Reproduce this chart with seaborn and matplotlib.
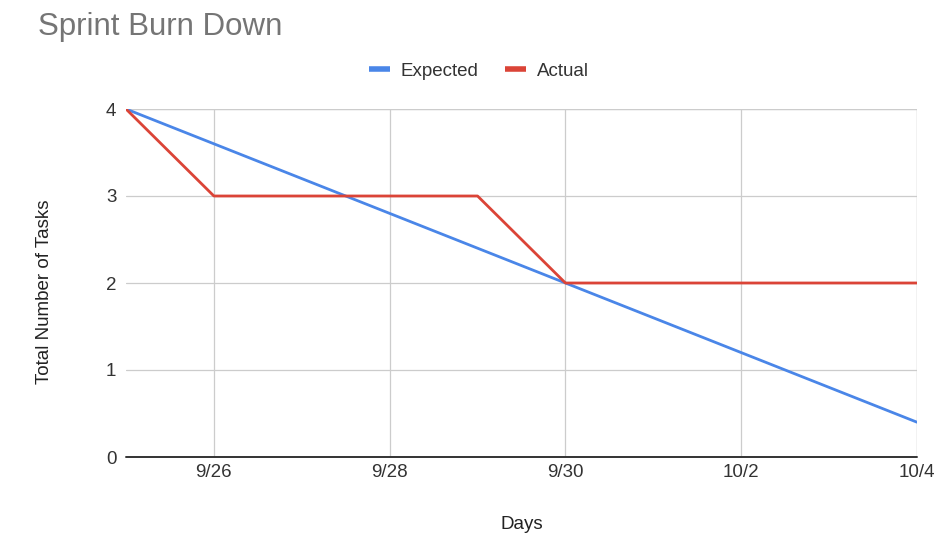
import matplotlib
matplotlib.use("Agg")
import matplotlib.pyplot as plt
import pandas as pd
import seaborn as sns

# Sprint burn-down data
days = pd.date_range("2019-09-25", "2019-10-04", freq="D")
expected = [4.0, 3.6, 3.2, 2.8, 2.4, 2.0, 1.6, 1.2, 0.8, 0.4]
actual = [4, 3, 3, 3, 3, 2, 2, 2, 2, 2]
tick_dates = ["2019-09-26", "2019-09-28", "2019-09-30", "2019-10-02", "2019-10-04"]
tick_labels = ["9/26", "9/28", "9/30", "10/2", "10/4"]
series_names = ["Expected", "Actual"]

df = pd.DataFrame({"Days": list(days) * 2,
                   "Tasks": expected + actual,
                   "Series": [series_names[0]] * len(days) + [series_names[1]] * len(days)})

sns.set_theme(style="white")
plt.rcParams["font.family"] = ["Liberation Sans", "DejaVu Sans"]

fig = plt.figure(figsize=(9.35, 5.58), dpi=100)
ax = fig.add_axes([126 / 935, 1 - 457 / 558, (917 - 126) / 935, (457 - 109) / 558])

palette = {"Expected": "#4a86e8", "Actual": "#db4437"}
sns.lineplot(data=df, x="Days", y="Tasks", hue="Series", palette=palette,
             linewidth=2.0, ax=ax, legend=False, zorder=3)

ax.set_xlim(days[0], days[-1])
ax.set_ylim(0, 4)
ax.set_yticks([0, 1, 2, 3, 4])
ticks = pd.to_datetime(tick_dates)
ax.set_xticks(ticks)
ax.set_xticklabels(tick_labels)

grid_c = "#cccccc"
ax.grid(True, color=grid_c, linewidth=0.9)
for s in ax.spines.values():
    s.set_visible(False)
ax.axhline(0, color="#333333", linewidth=1.4, zorder=4, clip_on=False)
ax.axvline(days[-1], color=grid_c, linewidth=0.9, zorder=1)
ax.axhline(4, color=grid_c, linewidth=0.9, zorder=1)

fs = 13.5
text_c = "#333333"
ax.tick_params(axis="y", length=4, color=grid_c, pad=3, labelsize=fs, labelcolor=text_c)
ax.tick_params(axis="x", length=0, pad=5, labelsize=fs, labelcolor=text_c)
ax.set_xlabel("Days", fontsize=fs, color="#222222", labelpad=25)
ax.set_ylabel("Total Number of Tasks", fontsize=fs, color="#222222")
ax.yaxis.set_label_coords(-0.092, 0.474)

fig.text(38 / 935, 1 - 27 / 558, "Sprint Burn Down", fontsize=22.5, color="#757575",
         va="center", ha="left")

handles = [plt.Line2D([0], [0], color=palette[n], linewidth=4, solid_capstyle="butt")
           for n in series_names]
fig.legend(handles, series_names, loc="center", bbox_to_anchor=(479 / 935, 1 - 71 / 558),
           ncol=2, frameon=False, fontsize=fs, handlelength=1.1, handletextpad=0.6,
           columnspacing=1.4, labelcolor=text_c)

fig.savefig("out.png", dpi=100, facecolor="white")
